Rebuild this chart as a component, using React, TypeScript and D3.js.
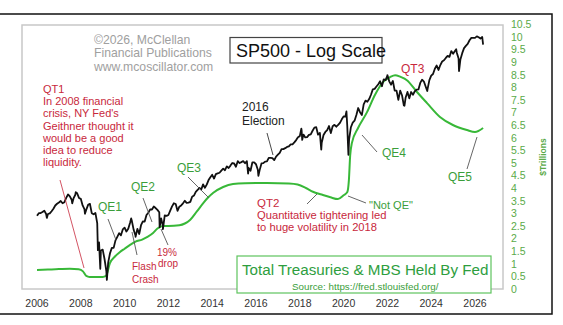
import React from "react";
import * as d3 from "d3";

// ---- DATA ----
const xTickYears = [2006, 2008, 2010, 2012, 2014, 2016, 2018, 2020, 2022, 2024, 2026];
const fedTicks = [0, 0.5, 1, 1.5, 2, 2.5, 3, 3.5, 4, 4.5, 5, 5.5, 6, 6.5, 7, 7.5, 8, 8.5, 9, 9.5, 10, 10.5];

// Fed holdings of Treasuries + MBS ($ trillions), by decimal year
const fedYears = [
  2006.0, 2006.5, 2007.0, 2007.5, 2007.9, 2008.1, 2008.25, 2008.4, 2009.0, 2009.15,
  2009.33, 2009.55, 2009.79, 2010.0, 2010.25, 2010.5, 2010.8, 2011.0, 2011.3, 2011.5,
  2011.75, 2012.0, 2012.5, 2012.75, 2013.0, 2013.3, 2013.6, 2013.8, 2014.05, 2014.5,
  2014.95, 2015.5, 2016.5, 2017.5, 2017.9, 2018.3, 2018.6, 2019.0, 2019.4, 2019.74,
  2020.0, 2020.17, 2020.24, 2020.3, 2020.38, 2020.66, 2021.07, 2021.43, 2021.8, 2022.12,
  2022.35, 2022.6, 2022.89, 2023.35, 2023.81, 2024.4, 2024.99, 2025.63, 2026.0, 2026.37,
];
const fedValues = [
  0.75, 0.77, 0.79, 0.8, 0.78, 0.7, 0.52, 0.48, 0.48, 0.52,
  1.03, 1.28, 1.47, 1.6, 1.75, 1.88, 1.96, 2.05, 2.22, 2.4,
  2.5, 2.5, 2.53, 2.6, 2.75, 3.08, 3.42, 3.62, 3.82, 4.05,
  4.17, 4.2, 4.21, 4.19, 4.15, 4.0, 3.86, 3.75, 3.64, 3.57,
  3.72, 3.85, 4.3, 5.3, 5.8, 6.39, 7.02, 7.7, 8.21, 8.41,
  8.49, 8.42, 8.29, 7.82, 7.38, 6.83, 6.51, 6.31, 6.23, 6.39,
];

// S&P 500 month-end closes, Jan 2006 onward
const spStartYear = 2006;
const spStartValue = 1248;
const spMonthlyClose = [
  1280, 1281, 1295, 1311, 1270, 1270, 1277, 1304, 1336, 1378, 1401, 1418,
  1438, 1407, 1421, 1482, 1531, 1503, 1455, 1474, 1527, 1549, 1481, 1468,
  1379, 1331, 1323, 1386, 1400, 1280, 1267, 1283, 1165, 969, 896, 903,
  826, 735, 798, 873, 919, 919, 987, 1021, 1057, 1036, 1096, 1115,
  1074, 1104, 1169, 1187, 1089, 1031, 1102, 1049, 1141, 1183, 1181, 1258,
  1286, 1327, 1326, 1364, 1345, 1321, 1292, 1219, 1131, 1253, 1247, 1258,
  1312, 1366, 1408, 1398, 1310, 1362, 1379, 1407, 1441, 1412, 1416, 1426,
  1498, 1515, 1569, 1598, 1631, 1606, 1686, 1633, 1682, 1757, 1806, 1848,
  1783, 1859, 1872, 1884, 1924, 1960, 1931, 2003, 1972, 2018, 2068, 2059,
  1995, 2105, 2068, 2086, 2107, 2063, 2104, 1972, 1920, 2079, 2080, 2044,
  1940, 1932, 2060, 2065, 2097, 2099, 2174, 2171, 2168, 2126, 2199, 2239,
  2279, 2364, 2363, 2384, 2412, 2423, 2470, 2472, 2519, 2575, 2648, 2674,
  2824, 2714, 2641, 2648, 2705, 2718, 2816, 2902, 2914, 2712, 2760, 2507,
  2704, 2784, 2834, 2946, 2752, 2942, 2980, 2926, 2977, 3038, 3141, 3231,
  3226, 2954, 2585, 2912, 3044, 3100, 3271, 3500, 3363, 3270, 3622, 3756,
  3714, 3811, 3973, 4181, 4204, 4298, 4395, 4523, 4308, 4605, 4567, 4766,
  4516, 4374, 4530, 4132, 4132, 3785, 4130, 3955, 3586, 3872, 4080, 3840,
  4077, 3970, 4109, 4169, 4180, 4450, 4589, 4508, 4288, 4194, 4568, 4770,
  4846, 5096, 5254, 5036, 5278, 5460, 5522, 5648, 5762, 5705, 6032, 5882,
  6041, 5955, 5612, 5569, 5912, 6205, 6339, 6460, 6688, 6840, 6849, 6845,
  6940, 6880, 6800,
];
// intra-month highs/lows
const spExtremeYears = [
  2006.45, 2007.61, 2007.77, 2008.19, 2008.78, 2008.89, 2009.19, 2010.3, 2010.5, 2011.6,
  2011.75, 2015.64, 2016.11, 2018.07, 2018.11, 2018.98, 2020.13, 2020.22, 2022.0, 2022.78,
  2023.82, 2025.14, 2025.27, 2026.33, 2026.37,
];
const spExtremeValues = [
  1223, 1406, 1565, 1273, 899, 752, 676, 1217, 1022, 1119,
  1099, 1867, 1829, 2873, 2581, 2351, 3386, 2237, 4797, 3577,
  4117, 6144, 4982, 6900, 6420,
];

// ---- LAYOUT ----
const W = 563;
const H = 325;
const FONT = "'Liberation Sans', Arial, Helvetica, sans-serif";
const RED = "#c8283c";
const GREEN_LINE = "#38b838";
const GREEN_TEXT = "#3a9e3a";
const GREEN_AXIS = "#5aaa48";

const x = d3.scaleLinear().domain([2006, 2026]).range([37, 475]);
const yFed = d3.scaleLinear().domain([0, 10.5]).range([289, 24.5]);
const ySp = d3.scaleLog().domain([620, 7740]).range([289, 25]);

const spPoints: [number, number][] = [[spStartYear, spStartValue]];
spMonthlyClose.forEach((v, i) => spPoints.push([spStartYear + (i + 1) / 12, v]));
spExtremeYears.forEach((yr, i) => spPoints.push([yr, spExtremeValues[i]]));
spPoints.sort((a, b) => a[0] - b[0]);

const fedPoints: [number, number][] = fedYears.map((yr, i) => [yr, fedValues[i]]);

const spLine = d3.line<[number, number]>().x((d) => x(d[0])).y((d) => ySp(d[1]));
const fedLine = d3
  .line<[number, number]>()
  .x((d) => x(d[0]))
  .y((d) => yFed(d[1]))
  .curve(d3.curveMonotoneX);

const qt1Lines = [
  "QT1",
  "In 2008 financial",
  "crisis, NY Fed's",
  "Geithner thought it",
  "would be a good",
  "idea to reduce",
  "liquidity.",
];

export default function App() {
  return (
    <svg
      width={W}
      height={H}
      style={{ position: "absolute", left: 0, top: 0, background: "#fff" }}
      fontFamily={FONT}
    >
      <rect x={0} y={0} width={W} height={H} fill="#fff" />
      {/* outer frame */}
      <rect x={-2} y={14} width={554} height={300} fill="none" stroke="#111" strokeWidth={1.5} />
      {/* plot frame */}
      <rect x={22} y={25} width={481} height={264} fill="none" stroke="#c8c8c8" strokeWidth={1.5} />

      {/* x labels */}
      {xTickYears.map((yr) => (
        <text key={yr} x={x(yr)} y={307} textAnchor="middle" fontSize={10.5} fill="#333">
          {yr}
        </text>
      ))}
      {/* right axis labels */}
      {fedTicks.map((v) => (
        <text key={v} x={511} y={yFed(v) + 3.8} fontSize={10.5} fill={GREEN_AXIS}>
          {v}
        </text>
      ))}
      <text
        transform="translate(546,157) rotate(-90)"
        textAnchor="middle"
        fontSize={8.5}
        fontWeight="bold"
        fill={GREEN_AXIS}
      >
        $Trillions
      </text>

      {/* copyright */}
      {["©2026, McClellan", "Financial Publications", "www.mcoscillator.com"].map((t, i) => (
        <text key={t} x={94} y={44 + i * 13.3} fontSize={12.2} fill="#a0a0a0">
          {t}
        </text>
      ))}

      {/* title box */}
      <rect x={230} y={37.5} width={152} height={25.5} fill="#fff" stroke="#444" strokeWidth={1.2} />
      <text x={236} y={57} fontSize={18} fill="#111">
        SP500 - Log Scale
      </text>

      {/* data lines */}
      <path d={fedLine(fedPoints) || ""} fill="none" stroke={GREEN_LINE} strokeWidth={2} />
      <path d={spLine(spPoints) || ""} fill="none" stroke="#111" strokeWidth={1.8} strokeLinejoin="round" />

      {/* pointer lines */}
      <line x1={60} y1={180} x2={84} y2={268} stroke={RED} strokeWidth={0.8} />
      <line x1={267} y1={133} x2={273} y2={155} stroke="#333" strokeWidth={0.9} />
      <line x1={108} y1={219} x2={116} y2={240} stroke="#555" strokeWidth={0.9} />
      <line x1={143} y1={198} x2={152} y2={222} stroke="#555" strokeWidth={0.9} />
      <line x1={188} y1={177} x2={209} y2={198} stroke="#555" strokeWidth={0.9} />
      <line x1={362} y1={135} x2={377} y2={152} stroke="#555" strokeWidth={0.9} />
      <line x1={477} y1={137} x2={467} y2={169} stroke="#555" strokeWidth={0.9} />
      <line x1={348} y1={196} x2={366} y2={203} stroke="#555" strokeWidth={0.9} />
      <line x1={307} y1={204} x2={317} y2={194} stroke="#555" strokeWidth={0.9} />
      <line x1={132} y1={232} x2={137} y2={255} stroke="#555" strokeWidth={0.9} />
      <line x1={161} y1={229} x2={168} y2={245} stroke="#555" strokeWidth={0.9} />

      {/* QT1 text */}
      {qt1Lines.map((t, i) => (
        <text key={t} x={43} y={93 + i * 12.2} fontSize={11} fill={RED}>
          {t}
        </text>
      ))}

      <text x={242} y={111} fontSize={12} fill="#222">2016</text>
      <text x={242} y={125} fontSize={12} fill="#222">Election</text>

      <text x={98} y={211} fontSize={12} fill={GREEN_TEXT}>QE1</text>
      <text x={131} y={191} fontSize={12} fill={GREEN_TEXT}>QE2</text>
      <text x={177} y={172} fontSize={12} fill={GREEN_TEXT}>QE3</text>
      <text x={382} y={157} fontSize={12} fill={GREEN_TEXT}>QE4</text>
      <text x={448} y={181} fontSize={12} fill={GREEN_TEXT}>QE5</text>
      <text x={369} y={209} fontSize={11} fill={GREEN_TEXT}>"Not QE"</text>
      <text x={401} y={73} fontSize={12} fill={RED}>QT3</text>

      <text x={257} y={207} fontSize={11.5} fill={RED}>QT2</text>
      <text x={257} y={219} fontSize={11.2} fill={RED}>Quantitative tightening led</text>
      <text x={257} y={231} fontSize={11.2} fill={RED}>to huge volatility in 2018</text>

      <text x={157} y={256} fontSize={10} fill={RED}>19%</text>
      <text x={158} y={267} fontSize={10} fill={RED}>drop</text>
      <text x={132} y={270} fontSize={10} fill={RED}>Flash</text>
      <text x={132} y={283} fontSize={10} fill={RED}>Crash</text>

      {/* legend box */}
      <rect x={237} y={256} width={254} height={37} fill="#fff" stroke="#5ec45e" strokeWidth={1.2} />
      <text x={242} y={275} fontSize={15.2} fill="#2e9e3e">
        Total Treasuries &amp; MBS Held By Fed
      </text>
      <text x={292} y={290} fontSize={9.8} fill={GREEN_TEXT}>
        Source: https://fred.stlouisfed.org/
      </text>
    </svg>
  );
}
